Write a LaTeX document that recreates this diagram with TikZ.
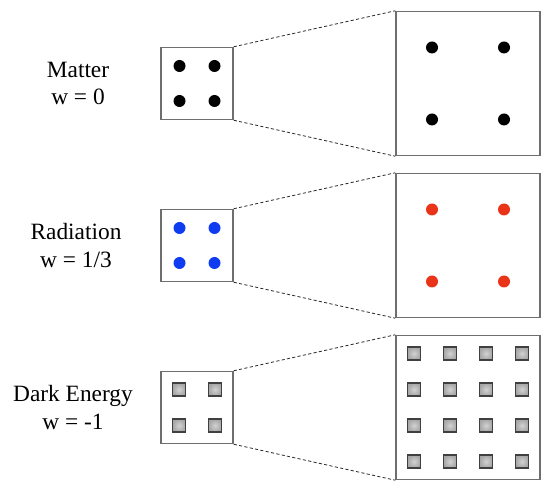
\documentclass[tikz,border=0pt]{standalone}
\usepackage{fontspec}
\setmainfont{Liberation Serif}
\usepackage{tikz}
\usetikzlibrary{positioning}
\definecolor{radBlue}{HTML}{0F3CF0}
\definecolor{radRed}{HTML}{EA3419}
\definecolor{boxGray}{HTML}{6E6E6E}

\tikzset{
  smallbox/.style={draw=boxGray, line width=0.85pt, minimum size=1.44cm, inner sep=0pt},
  zoombox/.style={draw=boxGray, line width=0.85pt, minimum size=2.88cm, inner sep=0pt},
  zoomline/.style={black!85, line width=0.45pt, dash pattern=on 1.8pt off 1.3pt},
  caption/.style={font=\fontsize{13.3}{15.4}\selectfont, align=center},
  vacuum/.style={inner color=gray!35, outer color=gray!70, draw=black!75, line width=0.6pt}
}

\begin{document}
\begin{tikzpicture}[x=0.02cm, y=-0.02cm]
    \useasboundingbox (0,0) rectangle (547,492);
    % matter
    \node[caption] (matLabel) at (78,83.5) {Matter\\w = 0};
    \node[smallbox] (matBox) at (197,83.5) {};
    \node[zoombox] (matZoom) at (468,83.5) {};
    \draw[zoomline] (matBox.north east) -- (matZoom.north west);
    \draw[zoomline] (matBox.south east) -- (matZoom.south west);
    \foreach \dx in {-17.5,17.5}
      \foreach \dy in {-17.5,17.5}
        \fill ([shift={(\dx,\dy)}]matBox.center) circle (0.12cm);
    \foreach \dx in {-36,36}
      \foreach \dy in {-36,36}
        \fill ([shift={(\dx,\dy)}]matZoom.center) circle (0.12cm);
    % radiation
    \node[caption] (radLabel) at (76,245.5) {Radiation\\w = 1/3};
    \node[smallbox] (radBox) at (197,245.5) {};
    \node[zoombox] (radZoom) at (468,245.5) {};
    \draw[zoomline] (radBox.north east) -- (radZoom.north west);
    \draw[zoomline] (radBox.south east) -- (radZoom.south west);
    \foreach \dx in {-17.5,17.5}
      \foreach \dy in {-17.5,17.5}
        \fill[radBlue] ([shift={(\dx,\dy)}]radBox.center) circle (0.12cm);
    \foreach \dx in {-36,36}
      \foreach \dy in {-36,36}
        \fill[radRed] ([shift={(\dx,\dy)}]radZoom.center) circle (0.12cm);
    % dark energy
    \node[caption] (deLabel) at (73,407.5) {Dark Energy\\w = -1};
    \node[smallbox] (deBox) at (197,407.5) {};
    \node[zoombox] (deZoom) at (468,407.5) {};
    \draw[zoomline] (deBox.north east) -- (deZoom.north west);
    \draw[zoomline] (deBox.south east) -- (deZoom.south west);
    \foreach \dx in {-18,18}
      \foreach \dy in {-18,18}
        \shade[vacuum] ([shift={(\dx-6.5,\dy-6.5)}]deBox.center) rectangle ++(13,13);
    \foreach \dx in {-54,-18,18,54}
      \foreach \dy in {-54,-18,18,54}
        \shade[vacuum] ([shift={(\dx-6.5,\dy-6.5)}]deZoom.center) rectangle ++(13,13);
\end{tikzpicture}
\end{document}
